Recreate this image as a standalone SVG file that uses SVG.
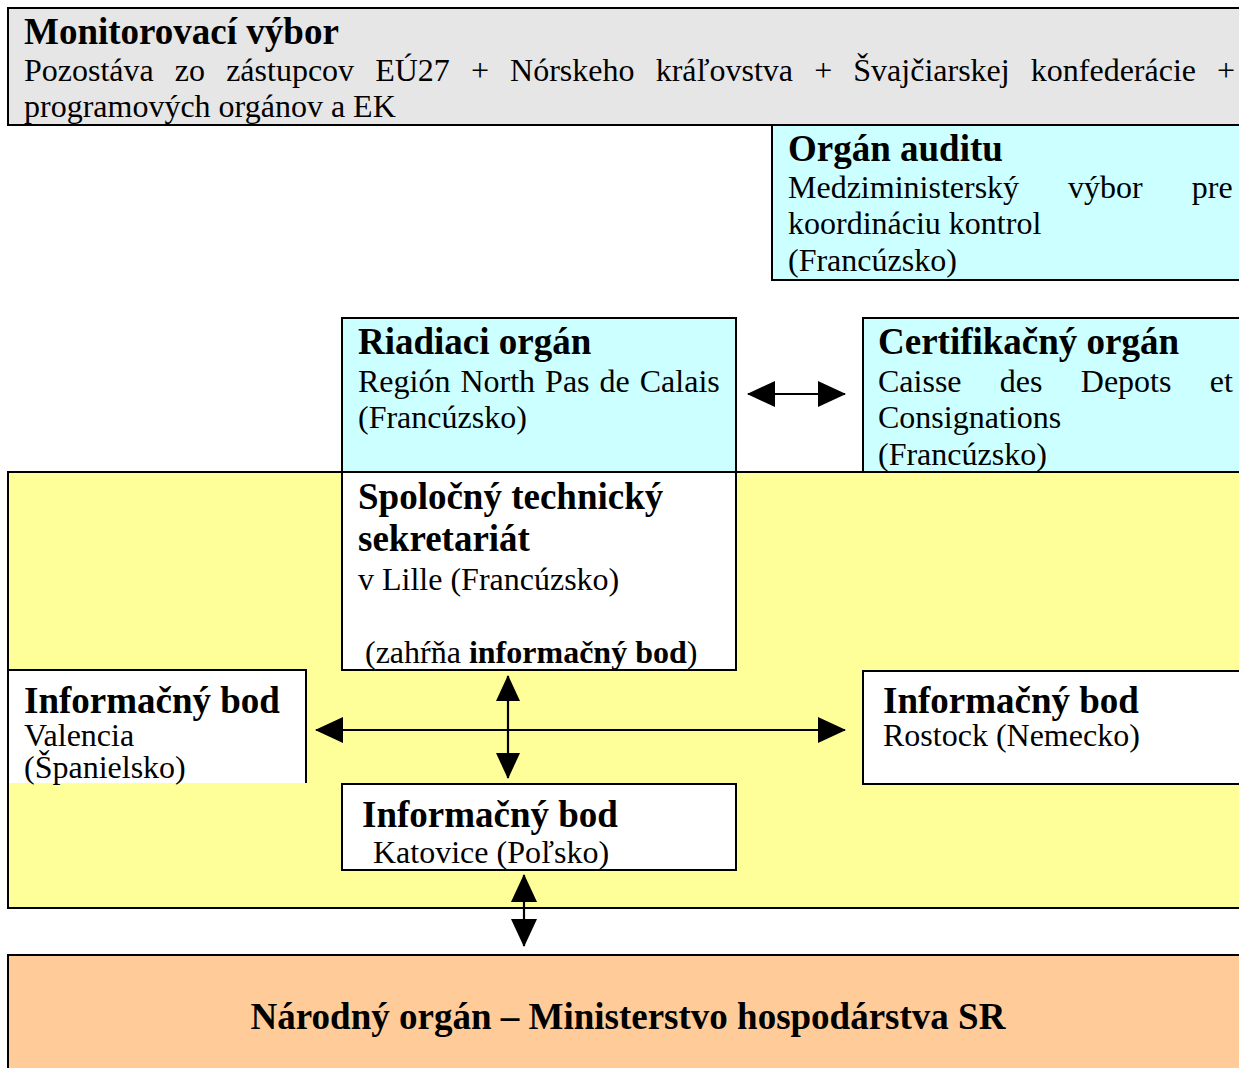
<svg xmlns="http://www.w3.org/2000/svg" width="1239" height="1068" viewBox="0 0 1239 1068">
<style>
.box{stroke:#000;stroke-width:2}
.t{font-family:"Liberation Serif","Times New Roman",serif;fill:#000}
.b{font-weight:bold;font-size:37px}
.r{font-size:32px}
.conn{stroke:#000;stroke-width:2.2;fill:none}
</style>
<defs>
<marker id="big" viewBox="0 0 28 26" refX="27" refY="13" markerWidth="28" markerHeight="26" markerUnits="userSpaceOnUse" orient="auto-start-reverse">
<path d="M0,0 L28,13 L0,26 Z" fill="#000"/>
</marker>
<marker id="small" viewBox="0 0 26 24" refX="25" refY="12" markerWidth="26" markerHeight="24" markerUnits="userSpaceOnUse" orient="auto-start-reverse">
<path d="M0,0 L26,12 L0,24 Z" fill="#000"/>
</marker>
</defs>

<g id="monitorovaci-vybor">
<rect class="box" x="8" y="8" width="1240" height="117" fill="#e6e6e6"/>
<text class="t b" x="24" y="44">Monitorovací výbor</text>
<text class="t r" x="24" y="81" word-spacing="13.1">Pozostáva zo zástupcov EÚ27 + Nórskeho kráľovstva + Švajčiarskej konfederácie +</text>
<text class="t r" x="24" y="117">programových orgánov a EK</text>
</g>

<g id="organ-auditu">
<rect class="box" x="772" y="125" width="480" height="155" fill="#ccffff"/>
<text class="t b" x="788" y="161">Orgán auditu</text>
<text class="t r" x="788" y="198" word-spacing="41">Medziministerský výbor pre</text>
<text class="t r" x="788" y="234">koordináciu kontrol</text>
<text class="t r" x="788" y="271">(Francúzsko)</text>
</g>

<g id="zona-spolupraca">
<rect class="box" x="8" y="472" width="1240" height="436" fill="#ffff99"/>
</g>

<g id="riadiaci-organ">
<rect class="box" x="342" y="318" width="394" height="154" fill="#ccffff"/>
<text class="t b" x="358" y="354">Riadiaci orgán</text>
<text class="t r" x="358" y="392" word-spacing="2">Región North Pas de Calais</text>
<text class="t r" x="358" y="428">(Francúzsko)</text>
</g>

<g id="certifikacny-organ">
<rect class="box" x="863" y="318" width="390" height="154" fill="#ccffff"/>
<text class="t b" x="878" y="354">Certifikačný orgán</text>
<text class="t r" x="878" y="392" word-spacing="30.3">Caisse des Depots et</text>
<text class="t r" x="878" y="428">Consignations</text>
<text class="t r" x="878" y="465">(Francúzsko)</text>
</g>

<g id="spolocny-technicky-sekretariat">
<rect class="box" x="342" y="472" width="394" height="198" fill="#ffffff"/>
<text class="t b" x="358" y="509">Spoločný technický</text>
<text class="t b" x="358" y="551">sekretariát</text>
<text class="t r" x="358" y="590">v Lille (Francúzsko)</text>
<text class="t r" x="365" y="663">(zahŕňa <tspan font-weight="bold">informačný bod</tspan>)</text>
</g>

<g id="informacny-bod-valencia">
<rect x="9" y="670" width="297" height="113" fill="#ffffff"/>
<path class="box" d="M8,670 H306 V783" fill="none"/>
<text class="t b" x="24" y="713">Informačný bod</text>
<text class="t r" x="24" y="746">Valencia</text>
<text class="t r" x="24" y="778">(Španielsko)</text>
</g>

<g id="informacny-bod-rostock">
<rect class="box" x="863" y="671" width="390" height="113" fill="#ffffff"/>
<text class="t b" x="883" y="713">Informačný bod</text>
<text class="t r" x="883" y="746">Rostock (Nemecko)</text>
</g>

<g id="informacny-bod-katovice">
<rect class="box" x="342" y="784" width="394" height="86" fill="#ffffff"/>
<text class="t b" x="362" y="827">Informačný bod</text>
<text class="t r" x="373" y="863">Katovice (Poľsko)</text>
</g>

<g id="narodny-organ">
<rect class="box" x="8" y="955" width="1240" height="120" fill="#ffcc99"/>
<text class="t b" x="628" y="1029" text-anchor="middle">Národný orgán – Ministerstvo hospodárstva SR</text>
</g>

<g id="connectors">
<line class="conn" x1="748" y1="394" x2="845" y2="394" marker-start="url(#big)" marker-end="url(#big)"/>
<line class="conn" x1="316" y1="730" x2="845" y2="730" marker-start="url(#big)" marker-end="url(#big)"/>
<line class="conn" x1="508" y1="676" x2="508" y2="778" marker-start="url(#small)" marker-end="url(#small)"/>
<line class="conn" x1="524" y1="875" x2="524" y2="946" marker-start="url(#big)" marker-end="url(#big)"/>
</g>
</svg>
